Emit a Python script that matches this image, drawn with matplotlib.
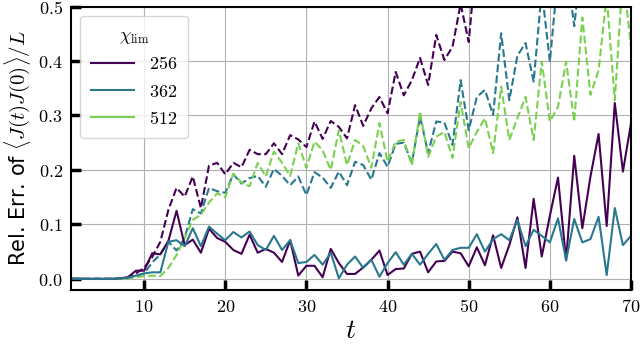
import numpy as np
import matplotlib
matplotlib.use("Agg")
import matplotlib.pyplot as plt
from matplotlib.lines import Line2D
from matplotlib.ticker import FuncFormatter

plt.rcParams['mathtext.fontset'] = 'cm'

t = np.arange(1, 71)
chilabels = ["256", "362", "512"]
colors = ["#440154", "#2a788e", "#7ad151"]

# solid lines
err256 = [0, 0, 0, 0, 0, 0, 0.001, 0.003, 0.015, 0.015,
          0.047, 0.045, 0.07, 0.125, 0.062, 0.072, 0.048, 0.092, 0.075, 0.068,
          0.053, 0.046, 0.081, 0.048, 0.055, 0.048, 0.031, 0.071, 0.006, 0.024,
          0.024, 0.003, 0.055, 0.029, 0.009, 0.009, 0.021, 0.035, 0.052, 0.007,
          0.018, 0.019, 0.046, 0.05, 0.012, 0.032, 0.033, 0.05, 0.047, 0.023,
          0.058, 0.025, 0.08, 0.02, 0.062, 0.113, 0.02, 0.147, 0.041, 0.116,
          0.186, 0.034, 0.226, 0.093, 0.188, 0.266, 0.097, 0.323, 0.197, 0.286]
err362 = [0, 0, 0, 0, 0, 0, 0.001, 0.002, 0.006, 0.01,
          0.012, 0.012, 0.068, 0.071, 0.06, 0.093, 0.06, 0.096, 0.083, 0.071,
          0.086, 0.076, 0.087, 0.062, 0.053, 0.079, 0.053, 0.071, 0.029, 0.031,
          0.044, 0.026, 0.048, 0.001, 0.026, 0.041, 0.02, 0.035, 0.004, 0.029,
          0.049, 0.026, 0.046, 0.026, 0.046, 0.064, 0.035, 0.053, 0.057, 0.057,
          0.082, 0.05, 0.073, 0.082, 0.071, 0.108, 0.06, 0.09, 0.079, 0.067,
          0.111, 0.034, 0.11, 0.067, 0.073, 0.114, 0.007, 0.13, 0.062, 0.079]

# dashed lines
derr256 = [0, 0, 0, 0, 0, 0, 0, 0.002, 0.01, 0.02,
           0.04, 0.068, 0.127, 0.167, 0.151, 0.188, 0.13, 0.208, 0.213, 0.192,
           0.213, 0.205, 0.237, 0.229, 0.229, 0.249, 0.229, 0.264, 0.256, 0.242,
           0.289, 0.257, 0.29, 0.279, 0.258, 0.319, 0.281, 0.313, 0.334, 0.304,
           0.38, 0.337, 0.365, 0.406, 0.356, 0.448, 0.402, 0.426, 0.505, 0.435,
           0.6, 0.55, 0.62, 0.58, 0.66, 0.6, 0.7, 0.65, 0.75, 0.68,
           0.8, 0.72, 0.85, 0.78, 0.9, 0.82, 0.95, 0.88, 1.0, 0.92]
derr362 = [0, 0, 0, 0, 0, 0, 0, 0.001, 0.005, 0.01,
           0.03, 0.045, 0.068, 0.052, 0.075, 0.128, 0.12, 0.167, 0.161, 0.158,
           0.192, 0.175, 0.185, 0.189, 0.169, 0.202, 0.189, 0.172, 0.188, 0.154,
           0.196, 0.186, 0.167, 0.197, 0.172, 0.215, 0.209, 0.182, 0.231, 0.206,
           0.248, 0.25, 0.213, 0.298, 0.231, 0.289, 0.287, 0.246, 0.365, 0.273,
           0.334, 0.347, 0.301, 0.451, 0.328, 0.41, 0.433, 0.362, 0.53, 0.399,
           0.56, 0.58, 0.464, 0.6, 0.62, 0.58, 0.66, 0.6, 0.7, 0.64]
derr512 = [0, 0, 0, 0, 0, 0, 0, 0.001, 0.003, 0.005,
           0.006, 0.005, 0.02, 0.044, 0.075, 0.108, 0.118, 0.14, 0.157, 0.15,
           0.193, 0.177, 0.17, 0.213, 0.188, 0.234, 0.213, 0.189, 0.249, 0.204,
           0.252, 0.236, 0.2, 0.273, 0.209, 0.255, 0.244, 0.204, 0.286, 0.215,
           0.252, 0.255, 0.209, 0.307, 0.224, 0.261, 0.27, 0.222, 0.325, 0.24,
           0.27, 0.295, 0.231, 0.353, 0.255, 0.295, 0.334, 0.255, 0.399, 0.289,
           0.316, 0.399, 0.289, 0.48, 0.338, 0.383, 0.52, 0.328, 0.56, 0.426]

fig = plt.figure(figsize=(6.4, 3.47), dpi=100)
ax = fig.add_subplot(111)
fig.subplots_adjust(left=0.111, right=0.986, top=0.981, bottom=0.165)

ax.grid(True, color="#b0b0b0", lw=0.8, zorder=0)
ax.plot(t, derr256, color=colors[0], ls="--", lw=1.5)
ax.plot(t, derr362, color=colors[1], ls="--", lw=1.5)
ax.plot(t, derr512, color=colors[2], ls="--", lw=1.5)
ax.plot(t, err256, color=colors[0], lw=1.5)
ax.plot(t, err362, color=colors[1], lw=1.5)

ax.set_xlim(1, 70)
ax.set_ylim(-0.02, 0.5)
ax.set_xticks([10, 20, 30, 40, 50, 60, 70])
ax.set_yticks([0.0, 0.1, 0.2, 0.3, 0.4, 0.5])
ax.xaxis.set_major_formatter(FuncFormatter(lambda v, p: "$%d$" % v))
ax.yaxis.set_major_formatter(FuncFormatter(lambda v, p: "$%.1f$" % v))
ax.tick_params(direction="in", length=7, width=2.5, labelsize=13, pad=6)
for s in ax.spines.values():
    s.set_linewidth(1.5)

ax.set_xlabel("$t$", fontsize=20, labelpad=0)
ax.set_ylabel(r"Rel. Err. of $\langle J(t)J(0)\rangle/L$", fontsize=15, labelpad=4)

handles = [Line2D([], [], color=c, lw=1.5) for c in colors]
leg = ax.legend(handles, ["$%s$" % s for s in chilabels], title=r"$\chi_{\rm lim}$",
                loc="upper left", fontsize=13, title_fontsize=13,
                handlelength=2.4, framealpha=0.8, borderpad=0.6)

fig.savefig("out.png", dpi=100)
